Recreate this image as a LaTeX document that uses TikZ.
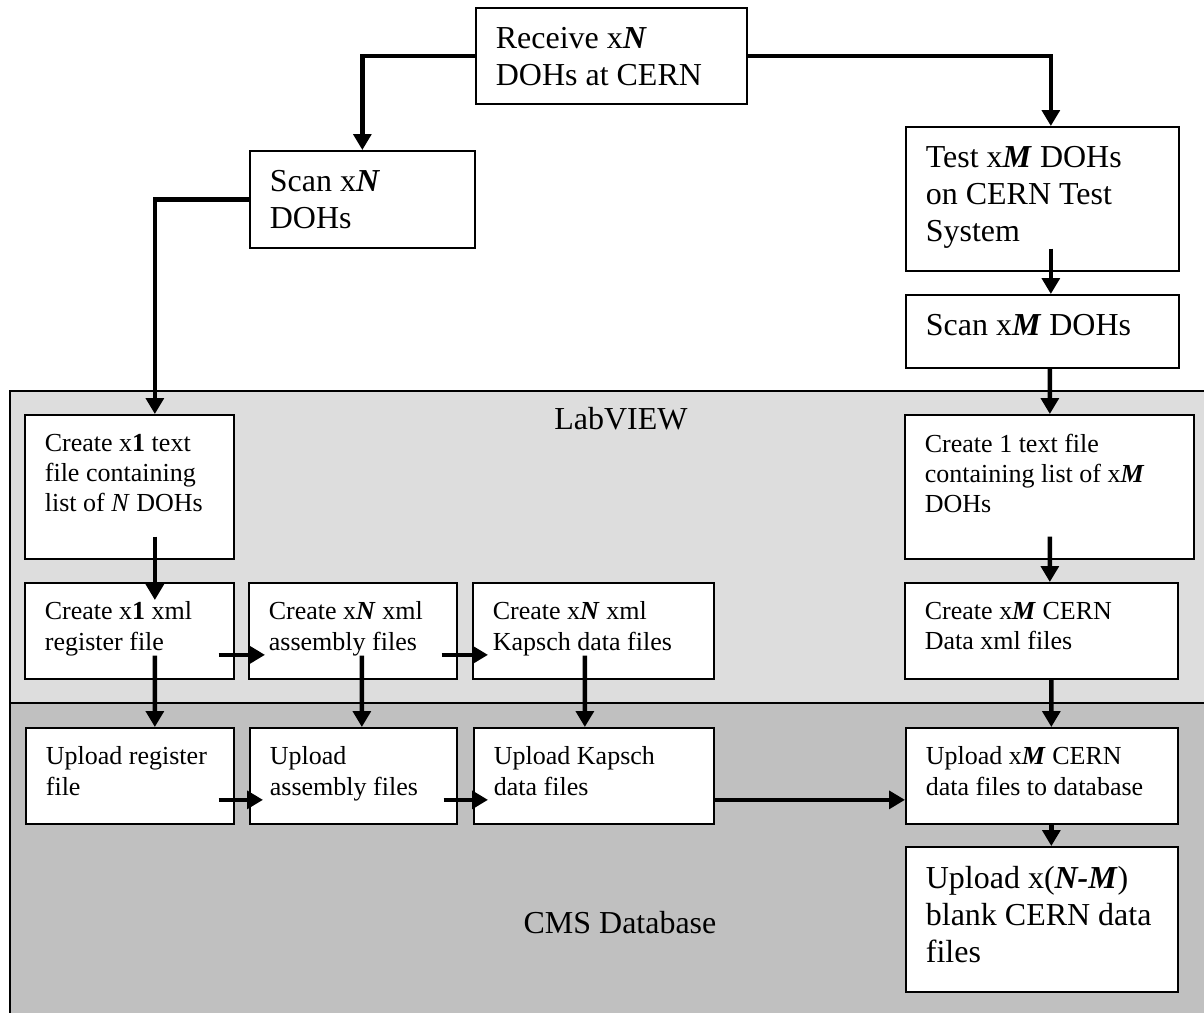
\documentclass[tikz,border=0pt]{standalone}
\usepackage{fontspec}
\setmainfont{Liberation Serif}
\usetikzlibrary{arrows.meta}

\definecolor{grislab}{RGB}{221,221,221}
\definecolor{griscms}{RGB}{192,192,192}

\newlength{\px}
\setlength{\px}{0.2mm}
\newcommand{\boite}[3]{\parbox[t][\dimexpr#2\px-0.76cm\relax][t]{\dimexpr#1\px-0.8cm\relax}{\raggedright #3}}
\newcommand{\grand}{\fontsize{18.2}{21.2}\selectfont}
\newcommand{\petit}{\fontsize{14.8}{17.2}\selectfont}
\newcommand{\bi}[1]{\textbf{\textit{#1}}}

\tikzset{
    procbox/.style={draw, line width=1pt, fill=white, anchor=north west,
        inner xsep=0.4cm, inner ysep=0.38cm},
    fleche/.style={line width=2.6pt, -{Triangle[length=9pt,width=10pt]}},
}

\begin{document}
\begin{tikzpicture}[x=0.02cm,y=-0.02cm]

\useasboundingbox (0,0) rectangle (1204,1013);

% Zones LabVIEW et base CMS
\fill[grislab] (10,391) rectangle (1215,703);
\fill[griscms] (10,703) rectangle (1215,1025);
\draw[line width=0.8pt]
(1215,391) -- (10,391) -- (10,1025);
\draw[line width=0.8pt]
(10,703) -- (1215,703);

\node[anchor=base, font=\grand] (labview) at (621,430) {LabVIEW};
\node[anchor=base, font=\grand] (cmsdb) at (620,933) {CMS Database};

% Etapes du haut
\node[procbox, font=\grand] (recv) at (475,7)
{\boite{271}{96}{Receive x\bi{N}\\DOHs at CERN}};
\node[procbox, font=\grand] (scanN) at (249,150)
{\boite{225}{97}{Scan x\bi{N}\\DOHs}};
\node[procbox, font=\grand] (test) at (905,126)
{\boite{273}{144}{Test x\bi{M} DOHs\\on CERN Test\\System}};
\node[procbox, font=\grand] (scanM) at (905,294)
{\boite{273}{73}{Scan x\bi{M} DOHs}};

% Etapes LabVIEW
\node[procbox, font=\petit] (txtN) at (24,414)
{\boite{209}{144}{Create x\textbf{1} text\\file containing\\list of \textit{N} DOHs}};
\node[procbox, font=\petit] (xmlN1) at (24,582)
{\boite{209}{96}{Create x\textbf{1} xml\\register file}};
\node[procbox, font=\petit] (asmN) at (248,582)
{\boite{208}{96}{Create x\bi{N} xml\\assembly files}};
\node[procbox, font=\petit] (kapN) at (472,582)
{\boite{241}{96}{Create x\bi{N} xml\\Kapsch data files}};
\node[procbox, font=\petit] (txtM) at (904,414)
{\boite{289}{144}{Create 1 text file\\containing list of x\bi{M}\\DOHs}};
\node[procbox, font=\petit] (xmlM) at (904,582)
{\boite{273}{96}{Create x\bi{M} CERN\\Data xml files}};

% Etapes base CMS
\node[procbox, font=\petit] (upReg) at (25,727)
{\boite{208}{96}{Upload register\\file}};
\node[procbox, font=\petit] (upAsm) at (249,727)
{\boite{207}{96}{Upload\\assembly files}};
\node[procbox, font=\petit] (upKap) at (473,727)
{\boite{240}{96}{Upload Kapsch\\data files}};
\node[procbox, font=\petit] (upM) at (905,727)
{\boite{272}{96}{Upload x\bi{M} CERN\\data files to database}};
\node[procbox, font=\grand] (upNM) at (905,846)
{\boite{272}{145}{Upload x(\bi{N-M})\\blank CERN data\\files}};

% Fleches du haut
\draw[fleche]
(recv.west) -| (scanN.north);
\draw[fleche]
(recv.east) -| ([xshift=0.17cm]test.north);
\draw[fleche]
(scanN.west) -| ([xshift=0.51cm]txtN.north);
\draw[fleche]
([xshift=0.17cm,yshift=0.46cm]test.south) -- ([xshift=0.17cm]scanM.north);
\draw[fleche]
([xshift=0.15cm]scanM.south) -- ([xshift=0.01cm]txtM.north);

% Fleches verticales
\draw[fleche]
([xshift=0.51cm,yshift=0.46cm]txtN.south) -- ([xshift=0.51cm,yshift=-0.36cm]xmlN1.north);
\draw[fleche]
([xshift=0.01cm,yshift=0.46cm]txtM.south) -- ([xshift=0.17cm]xmlM.north);
\draw[fleche]
([xshift=0.51cm,yshift=0.48cm]xmlN1.south) -- ([xshift=0.5cm]upReg.north);
\draw[fleche]
([xshift=0.18cm,yshift=0.48cm]asmN.south) -- ([xshift=0.17cm]upAsm.north);
\draw[fleche]
([xshift=-0.17cm,yshift=0.48cm]kapN.south) -- ([xshift=-0.18cm]upKap.north);
\draw[fleche]
([xshift=0.2cm]xmlM.south) -- ([xshift=0.19cm]upM.north);
\draw[fleche]
([xshift=0.19cm]upM.south) -- ([xshift=0.19cm]upNM.north);

% Fleches horizontales
\draw[fleche]
([xshift=-0.32cm,yshift=-0.48cm]xmlN1.east) -- ([xshift=0.34cm,yshift=-0.48cm]asmN.west);
\draw[fleche]
([xshift=-0.32cm,yshift=-0.48cm]asmN.east) -- ([xshift=0.32cm,yshift=-0.48cm]kapN.west);
\draw[fleche]
([xshift=-0.32cm,yshift=-0.48cm]upReg.east) -- ([xshift=0.28cm,yshift=-0.48cm]upAsm.west);
\draw[fleche]
([xshift=-0.28cm,yshift=-0.48cm]upAsm.east) -- ([xshift=0.3cm,yshift=-0.48cm]upKap.west);
\draw[fleche]
([yshift=-0.48cm]upKap.east) -- ([yshift=-0.48cm]upM.west);

\end{tikzpicture}
\end{document}
